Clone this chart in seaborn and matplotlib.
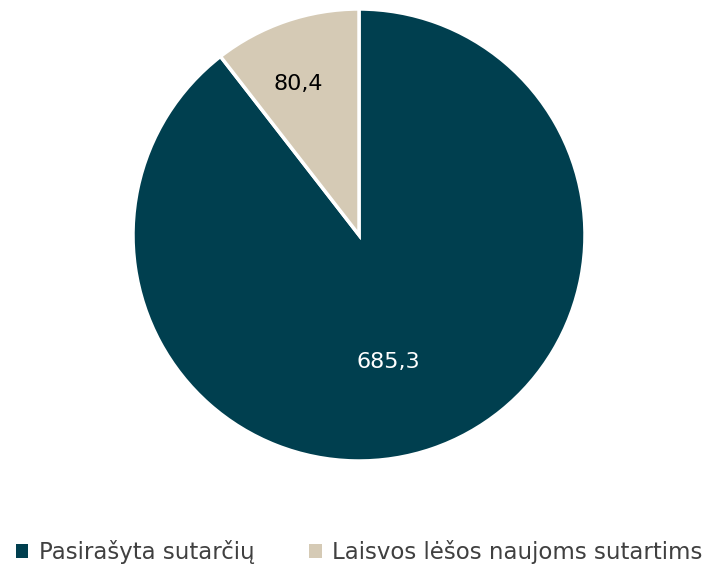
import matplotlib.pyplot as plt
import numpy as np
import seaborn as sns

labels = ["Pasirašyta sutarčių", "Laisvos lėšos naujoms sutartims"]
values = [685.3, 80.4]
value_text = ["685,3", "80,4"]
colors = ["#003F4F", "#D5CAB5"]
text_colors = ["white", "black"]
label_pos = [(0.575, -6), (0.72, 3)]  # radius, angle shift (deg)

sns.set_theme(style="white")
plt.rcParams["font.family"] = ["DejaVu Sans"]

fig = plt.figure(figsize=(7.18, 5.68), dpi=100)
cx, cy, r = 359, 568 - 235, 226
ax = fig.add_axes([(cx - r) / 718, (cy - r) / 568, 2 * r / 718, 2 * r / 568])

wedges, _ = ax.pie(values, colors=colors, startangle=90, counterclock=False,
                   wedgeprops=dict(edgecolor="white", linewidth=2.5))
for w, txt, tc, (rad, shift) in zip(wedges, value_text, text_colors, label_pos):
    ang = np.deg2rad((w.theta1 + w.theta2) / 2 + shift)
    ax.text(rad * np.cos(ang), rad * np.sin(ang), txt, ha="center", va="center",
            color=tc, fontsize=16)
ax.set_xlim(-1, 1)
ax.set_ylim(-1, 1)
ax.set_aspect("equal")

leg = fig.legend(wedges, labels, loc="lower center", bbox_to_anchor=(0.5, -0.03),
                 ncol=2, frameon=False, fontsize=16.5, handlelength=0.55, handleheight=0.55,
                 handletextpad=0.45, columnspacing=2.4)
for h in leg.legend_handles:
    h.set_edgecolor(h.get_facecolor())
    h.set_linewidth(0)
for t in leg.get_texts():
    t.set_color("#404040")

fig.savefig("out.png", dpi=100)
